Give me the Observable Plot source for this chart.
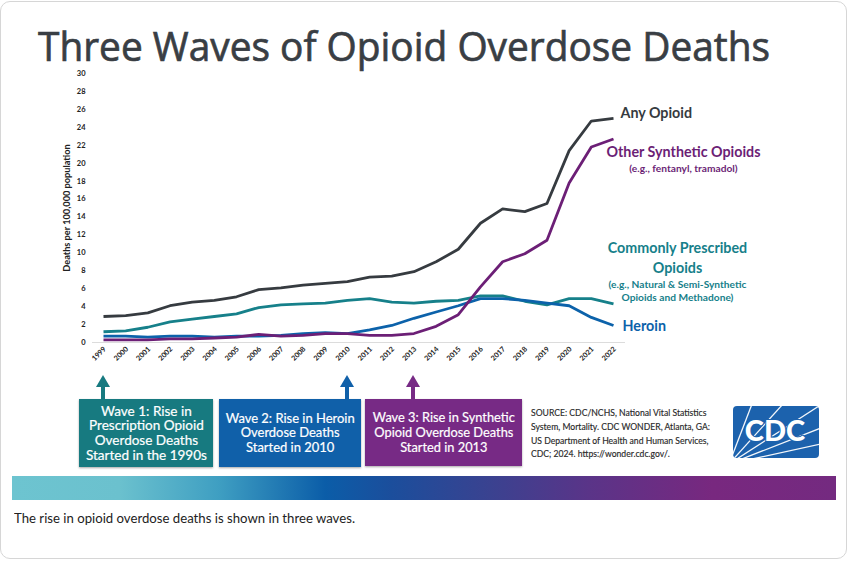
<!DOCTYPE html>
<html><head><meta charset="utf-8">
<script src="https://cdn.jsdelivr.net/npm/d3@7"></script>
<script src="https://cdn.jsdelivr.net/npm/@observablehq/plot@0.6"></script>
<style>
html,body{margin:0;padding:0;background:#fff;}
body{width:850px;height:562px;position:relative;overflow:hidden;font-family:Lato,sans-serif;}
#card{position:absolute;left:0;top:1px;width:847px;height:558px;border:1px solid #d6d6d6;border-radius:10px;box-sizing:border-box;}
#title{position:absolute;left:38px;top:26.5px;font-family:"Open Sans",sans-serif;font-weight:400;font-size:40px;line-height:38px;color:#393e44;-webkit-text-stroke:0.7px #393e44;white-space:nowrap;transform-origin:left top;}
#chart{position:absolute;left:0;top:60px;}
.box{position:absolute;color:#fff;text-align:center;font-size:13.5px;line-height:14.7px;display:flex;align-items:center;justify-content:center;box-shadow:0 1px 2px rgba(0,0,0,.35);}
.box span{display:inline-block;white-space:nowrap;transform-origin:center;-webkit-text-stroke:0.2px #fff;}
.arrow{position:absolute;top:375px;}
#source{position:absolute;left:531px;top:407px;font-size:8.6px;line-height:13.8px;color:#2a2a2a;white-space:nowrap;transform-origin:left top;-webkit-text-stroke:0.15px #2a2a2a;}
#bar{position:absolute;left:12px;top:476px;width:824px;height:24px;background:linear-gradient(90deg,#6dc4d0 0%,#6bc1ce 13%,#3f9fc2 25%,#0b5da8 38%,#1b4e9c 46%,#3a4290 58%,#5a3488 70%,#78287f 85%,#742a80 100%);}
#caption{position:absolute;left:14px;top:510px;font-size:13px;line-height:16px;color:#222;white-space:nowrap;transform-origin:left top;}
#logo{position:absolute;left:733px;top:406px;}
</style></head>
<body>
<div id="card"></div>
<div id="title">Three Waves of Opioid Overdose Deaths</div>
<div id="chart"></div>
<div id="boxes"></div>
<div id="source">SOURCE: CDC/NCHS, National Vital Statistics<br>System, Mortality. CDC WONDER, Atlanta, GA:<br>US Department of Health and Human Services,<br>CDC; 2024. https://wonder.cdc.gov/.</div>
<svg id="logo" width="87" height="53" viewBox="0 0 87 53">
  <defs><clipPath id="lc"><rect x="0" y="0" width="86" height="52" rx="4"/></clipPath></defs>
  <rect x="0" y="0" width="86" height="52" rx="4" fill="#1d62ad"/>
  <g clip-path="url(#lc)" stroke="#fff" stroke-width="1.3" opacity="0.95">
    <line x1="-4" y1="58" x2="19" y2="-2"/>
    <line x1="-4" y1="58" x2="50" y2="-2"/>
    <line x1="-4" y1="58" x2="86" y2="0"/>
    <line x1="-4" y1="58" x2="88" y2="22"/>
    <line x1="-4" y1="58" x2="88" y2="38"/>
    <line x1="-4" y1="58" x2="70" y2="56"/>
  </g>
  <text x="42" y="35" text-anchor="middle" font-family="Lato" font-weight="900" font-size="29" fill="#fff" stroke="#1d62ad" stroke-width="2.2" paint-order="stroke">CDC</text>
</svg>
<div id="bar"></div>
<div id="caption">The rise in opioid overdose deaths is shown in three waves.</div>
<script>
// ---- data ----
const years = [1999,2000,2001,2002,2003,2004,2005,2006,2007,2008,2009,2010,2011,2012,2013,2014,2015,2016,2017,2018,2019,2020,2021,2022];
const anyOpioid   = [2.9,3.0,3.3,4.1,4.5,4.7,5.1,5.9,6.1,6.4,6.6,6.8,7.3,7.4,7.9,9.0,10.4,13.3,14.9,14.6,15.5,21.4,24.7,25.0];
const otherSynth  = [0.3,0.3,0.3,0.4,0.4,0.5,0.6,0.9,0.7,0.8,1.0,1.0,0.8,0.8,1.0,1.8,3.1,6.2,9.0,9.9,11.4,17.8,21.8,22.7];
const commonRx    = [1.2,1.3,1.7,2.3,2.6,2.9,3.2,3.9,4.2,4.3,4.4,4.7,4.9,4.5,4.4,4.6,4.7,5.2,5.2,4.6,4.2,4.9,4.9,4.3];
const heroin      = [0.7,0.7,0.6,0.7,0.7,0.6,0.7,0.7,0.8,1.0,1.1,1.0,1.4,1.9,2.7,3.4,4.1,4.9,4.9,4.7,4.4,4.1,2.8,1.9];
const yTicks = [0,2,4,6,8,10,12,14,16,18,20,22,24,26,28,30];
const yLabel = "Deaths per 100,000 population";
const seriesNames = ["Any Opioid","Other Synthetic Opioids","Commonly Prescribed\nOpioids","Heroin"];
const seriesNotes = ["","(e.g., fentanyl, tramadol)","(e.g., Natural & Semi-Synthetic\nOpioids and Methadone)",""];
const waveYears = [1999, 2010, 2013];
const waveTexts = [
  ["Wave 1: Rise in","Prescription Opioid","Overdose Deaths","Started in the 1990s"],
  ["Wave 2: Rise in Heroin","Overdose Deaths","Started in 2010"],
  ["Wave 3: Rise in Synthetic","Opioid Overdose Deaths","Started in 2013"]
];

const colors = {any:"#363b40", synth:"#6c1f76", rx:"#16808a", her:"#0c62aa"};
const series = [
  {key:"rx", values:commonRx},
  {key:"her", values:heroin},
  {key:"synth", values:otherSynth},
  {key:"any", values:anyOpioid}
];
const rows = series.flatMap(s => years.map((yr,i)=>({series:s.key, year:yr, value:s.values[i]})));
const last = (arr) => arr[arr.length-1];
const lastYear = last(years);

const font = "Lato, sans-serif";
const nameSize = 14.3, noteSize = 10.2;
const chart = Plot.plot({
  width: 850, height: 320,
  marginTop: 13, marginBottom: 38, marginLeft: 103, marginRight: 237,
  x: {domain:[years[0], lastYear], axis: null},
  y: {domain:[0,30], axis: null},
  style: {fontFamily: font, background: "transparent", overflow: "visible"},
  marks: [
    Plot.ruleY([0], {stroke:"#dcdcdc", strokeWidth:1, insetLeft:-11, insetRight:-12}),
    Plot.axisY({ticks: yTicks, tickSize: 0, tickPadding: 18, fontSize: 7.5, fontWeight: "bold", fill:"#222", label: null}),
    Plot.text([yLabel], {frameAnchor:"left", textAnchor:"middle", rotate:-90, dx:-36, fontSize:9.2, fontWeight:"bold", fill:"#222"}),
    Plot.text(years, {x: d=>d, text: d=>String(d), frameAnchor:"bottom", rotate:-45, textAnchor:"end", dx:3, dy:7, fontSize:7.2, fontWeight:"bold", fill:"#222"}),
    ...series.map(s => Plot.line(rows.filter(r=>r.series===s.key), {x:"year", y:"value", stroke: colors[s.key], strokeWidth: 2.8, strokeLinejoin:"round", strokeLinecap:"butt"})),
    // series labels
    Plot.text([seriesNames[0]], {x: ()=>lastYear, y: ()=>last(anyOpioid), dx:7, dy:-4.5, textAnchor:"start", fontSize:nameSize, fontWeight:"bold", fill:colors.any}),
    Plot.text([seriesNames[1]], {x: ()=>lastYear, y: ()=>last(otherSynth), dx:70, dy:13.5, textAnchor:"middle", fontSize:nameSize, fontWeight:"bold", fill:colors.synth}),
    Plot.text([seriesNotes[1]], {x: ()=>lastYear, y: ()=>last(otherSynth), dx:70, dy:29.5, textAnchor:"middle", fontSize:noteSize, fontWeight:"bold", fill:colors.synth}),
    Plot.text([seriesNames[2]], {x: ()=>lastYear, y: ()=>last(commonRx), dx:64, dy:-47.4, textAnchor:"middle", lineHeight:1.4, fontSize:nameSize, fontWeight:"bold", fill:colors.rx}),
    Plot.text([seriesNotes[2]], {x: ()=>lastYear, y: ()=>last(commonRx), dx:64, dy:-13.9, textAnchor:"middle", lineHeight:1.3, fontSize:noteSize, fontWeight:"bold", fill:colors.rx}),
    Plot.text([seriesNames[3]], {x: ()=>lastYear, y: ()=>last(heroin), dx:9, dy:1, textAnchor:"start", fontSize:nameSize, fontWeight:"bold", fill:colors.her})
  ]
});
document.getElementById("chart").appendChild(chart);

// ---- wave boxes and arrows ----
const xs = chart.scale("x");
const waveColors = ["#177a80","#1060a9","#772a85"];
const boxGeom = [[79,399,134,68],[219,399,142,67.5],[365,399,157,67]];
const boxWidths = [121,129,142];
const boxesEl = document.getElementById("boxes");
waveTexts.forEach((lines,i)=>{
  const b = document.createElement("div");
  b.className = "box";
  const [l,t,w,h] = boxGeom[i];
  Object.assign(b.style,{left:l+"px",top:t+"px",width:w+"px",height:h+"px",background:waveColors[i]});
  const sp = document.createElement("span");
  sp.innerHTML = lines.join("<br>");
  b.appendChild(sp);
  boxesEl.appendChild(b);
  const px = xs.apply(waveYears[i]);
  const a = document.createElementNS("http://www.w3.org/2000/svg","svg");
  a.setAttribute("class","arrow");
  a.setAttribute("width","14"); a.setAttribute("height","25");
  a.style.left = (px-7)+"px";
  a.innerHTML = `<polygon points="7,0 14,12 0,12" fill="${waveColors[i]}"/><rect x="5" y="11" width="4" height="14" fill="${waveColors[i]}"/>`;
  boxesEl.appendChild(a);
  const sw = sp.getBoundingClientRect().width;
  sp.style.transform = `scaleX(${boxWidths[i]/sw})`;
});

function fit(id, target){
  const el = document.getElementById(id);
  const w = el.getBoundingClientRect().width;
  el.style.transform = `scaleX(${target/w})`;
}
fit("title", 732);
fit("source", 179);
fit("caption", 341);
</script>
</body></html>
